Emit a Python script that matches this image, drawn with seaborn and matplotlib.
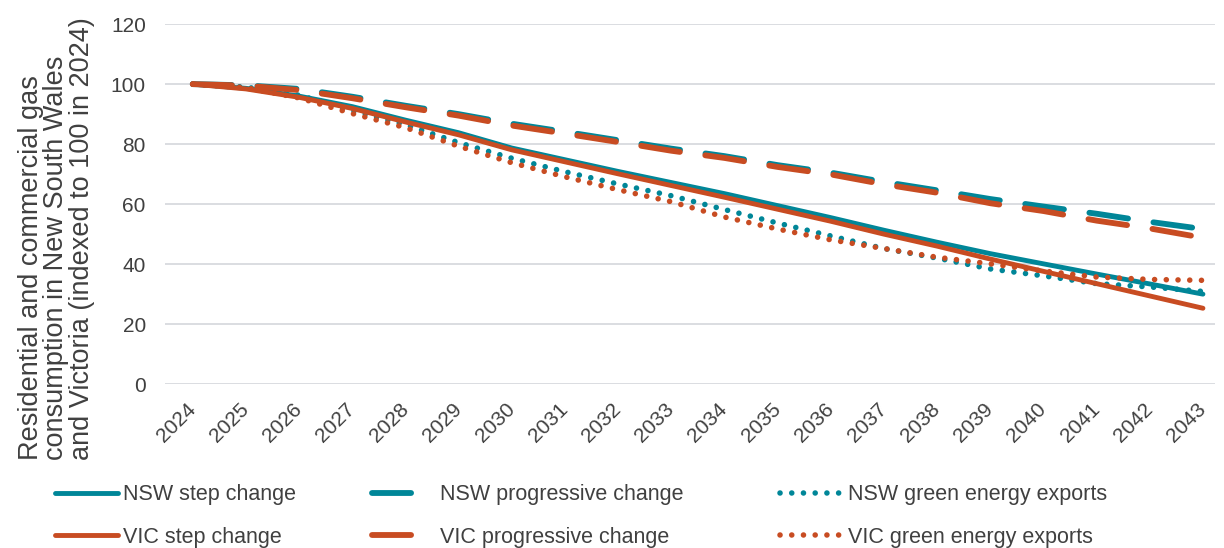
import matplotlib
matplotlib.use("Agg")
import matplotlib.pyplot as plt
import seaborn as sns
import pandas as pd

# Index of residential and commercial gas consumption (2024 = 100)
years = list(range(2024, 2044))
nsw_step = [100, 98.6, 96.0, 92.5, 88.0, 83.8, 78.7, 74.8, 70.9, 67.2,
            63.5, 59.5, 55.5, 51.3, 47.3, 43.5, 40.1, 36.7, 33.4, 30.0]
nsw_progressive = [100, 99.6, 98.4, 95.8, 92.8, 90.0, 86.8, 84.1, 81.3, 78.5,
                   76.0, 73.0, 70.5, 67.4, 64.6, 61.7, 59.2, 56.8, 54.1, 51.7]
nsw_green = [100, 99.0, 96.3, 91.2, 86.5, 80.5, 75.3, 70.8, 66.7, 62.8,
             58.2, 53.7, 49.4, 45.2, 42.0, 38.4, 36.1, 33.5, 32.4, 30.9]
vic_step = [100, 98.4, 95.6, 91.9, 87.4, 83.1, 78.1, 74.1, 70.1, 66.2,
            62.3, 58.3, 54.3, 50.0, 46.0, 41.7, 37.6, 33.5, 29.4, 25.3]
vic_progressive = [100, 99.5, 98.0, 95.3, 92.3, 89.5, 86.2, 83.5, 80.7, 77.8,
                   75.4, 72.4, 69.9, 66.6, 63.8, 60.3, 57.7, 54.5, 51.9, 48.8]
vic_green = [100, 98.8, 95.4, 90.2, 85.5, 79.3, 73.8, 69.1, 64.8, 60.8,
             55.7, 51.7, 48.1, 45.2, 42.3, 40.1, 37.7, 35.7, 34.9, 34.6]

series_names = ["NSW step change", "NSW progressive change", "NSW green energy exports",
                "VIC step change", "VIC progressive change", "VIC green energy exports"]
series_values = [nsw_step, nsw_progressive, nsw_green,
                 vic_step, vic_progressive, vic_green]

TEAL = "#008698"
ORANGE = "#C84C22"
TEXT = "#404040"
GRID = "#DADDE1"

sns.set_theme(style="white")
plt.rcParams["font.family"] = ["Liberation Sans", "DejaVu Sans"]
plt.rcParams["font.size"] = 15

df = pd.DataFrame({name: vals for name, vals in zip(series_names, series_values)})
df["Year"] = years
long_df = df.melt(id_vars="Year", var_name="Series", value_name="Index")

fig = plt.figure(figsize=(12.24, 5.48), dpi=100)
ax = fig.add_axes([0.135, 0.299, 0.858, 0.657])

styles = {
    "step": dict(linestyle="-", linewidth=3.5),
    "progressive": dict(linestyle=(0, (6.7, 4.4)), linewidth=4.2, dash_capstyle="round"),
    "green": dict(linestyle=(0, (0.01, 2.1)), linewidth=4.0, dash_capstyle="round"),
}

handles = {}
for name in series_names:
    color = TEAL if name.startswith("NSW") else ORANGE
    kind = "step" if "step" in name else ("progressive" if "progressive" in name else "green")
    sub = long_df[long_df["Series"] == name]
    n_before = len(ax.lines)
    sns.lineplot(data=sub, x="Year", y="Index", ax=ax, color=color,
                 solid_capstyle="round", label=name, legend=False, **styles[kind])
    handles[name] = ax.lines[n_before]

ax.set_xlim(2023.483, 2043.235)
ax.set_ylim(0, 120)
ax.set_yticks(range(0, 121, 20))
ax.set_xticks(years)
ax.set_xticklabels([str(y) for y in years], rotation=45, ha="right",
                   va="center", rotation_mode="anchor")
ax.yaxis.grid(True, color=GRID, linewidth=1.4)
ax.xaxis.grid(False)
ax.set_axisbelow(True)
for s in ax.spines.values():
    s.set_visible(False)
ax.tick_params(axis="both", length=0, colors=TEXT, labelsize=15)
ax.tick_params(axis="y", pad=14)
ax.tick_params(axis="x", pad=16)

ax.set_xlabel("")
ax.set_ylabel("Residential and commercial gas\nconsumption in New South Wales\nand Victoria (indexed to 100 in 2024)",
              color=TEXT, fontsize=19.5, multialignment="left", linespacing=0.97)
ax.yaxis.set_label_coords(-0.067, 0.404)

# Legend: three columns of two rows below the plot
col_x = [0.045, 0.304, 0.637]
columns = [["NSW step change", "VIC step change"],
           ["NSW progressive change", "VIC progressive change"],
           ["NSW green energy exports", "VIC green energy exports"]]
for x, names in zip(col_x, columns):
    fig.legend([handles[n] for n in names], names, loc="center left",
               bbox_to_anchor=(x, 0.058), frameon=False, ncol=1,
               handlelength=2.9, handletextpad=0.25, labelspacing=1.0,
               borderpad=0, borderaxespad=0, fontsize=15.5, labelcolor=TEXT)

fig.savefig("out.png", dpi=100)
